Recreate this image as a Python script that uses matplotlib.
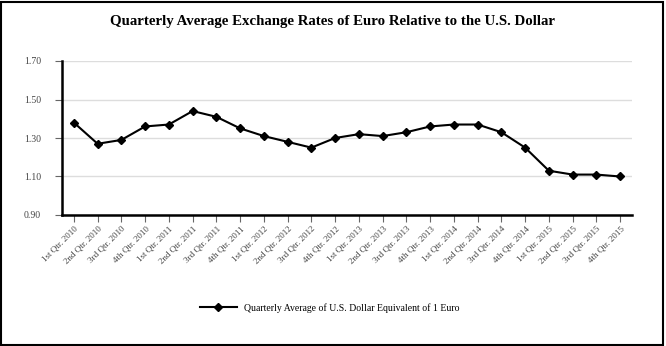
import matplotlib
matplotlib.use("Agg")
import matplotlib.pyplot as plt
from matplotlib.patches import Rectangle

quarters = ["1st Qtr. 2010", "2nd Qtr. 2010", "3rd Qtr. 2010", "4th Qtr. 2010",
            "1st Qtr. 2011", "2nd Qtr. 2011", "3rd Qtr. 2011", "4th Qtr. 2011",
            "1st Qtr. 2012", "2nd Qtr. 2012", "3rd Qtr. 2012", "4th Qtr. 2012",
            "1st Qtr. 2013", "2nd Qtr. 2013", "3rd Qtr. 2013", "4th Qtr. 2013",
            "1st Qtr. 2014", "2nd Qtr. 2014", "3rd Qtr. 2014", "4th Qtr. 2014",
            "1st Qtr. 2015", "2nd Qtr. 2015", "3rd Qtr. 2015", "4th Qtr. 2015"]
rates = [1.38, 1.27, 1.29, 1.36, 1.37, 1.44, 1.41, 1.35, 1.31, 1.28, 1.25, 1.30,
         1.32, 1.31, 1.33, 1.36, 1.37, 1.37, 1.33, 1.25, 1.13, 1.11, 1.11, 1.10]
yticks = [0.90, 1.10, 1.30, 1.50, 1.70]
series_label = "Quarterly Average of U.S. Dollar Equivalent of 1 Euro"
title = "Quarterly Average Exchange Rates of Euro Relative to the U.S. Dollar"

plt.rcParams['font.family'] = ['Liberation Serif', 'DejaVu Serif']

fig = plt.figure(figsize=(6.66, 3.46), dpi=100)
fig.patches.append(Rectangle((0.002, 0.003), 0.993, 0.992, transform=fig.transFigure,
                             fill=False, edgecolor='black', linewidth=1.5))

W, H = 666, 346
left, right, top, bottom = 62, 632, 61, 215
ax = fig.add_axes([left / W, 1 - bottom / H, (right - left) / W, (bottom - top) / H])

x = list(range(len(quarters)))
ax.plot(x, rates, color='black', linewidth=1.5, marker='D', markersize=4.5,
        label=series_label, zorder=3)
ax.set_xlim(-0.5, len(quarters) - 0.5)
ax.set_ylim(0.90, 1.70)
ax.set_yticks(yticks)
ax.set_yticklabels([f"{v:.2f}" for v in yticks], fontsize=7, color='#444444')
ax.set_xticks(x)
ax.set_xticklabels(quarters, rotation=45, ha='right', rotation_mode='anchor',
                   fontsize=6.5, color='#444444')
ax.yaxis.grid(True, color='#dddddd', linewidth=1)
ax.set_axisbelow(True)
for s in ['top', 'right']:
    ax.spines[s].set_visible(False)
for s in ['left', 'bottom']:
    ax.spines[s].set_linewidth(1.8)
ax.tick_params(axis='x', length=5, width=0.8, color='#666666', pad=2)
ax.tick_params(axis='y', length=5, width=0.8, color='#666666', pad=10)

fig.text(0.5, 1 - 22 / H, title, ha='center', va='center', fontsize=10.7, fontweight='bold')

fig.legend(loc='center', bbox_to_anchor=(0.495, 1 - 308 / H), frameon=False, fontsize=7,
           handlelength=3.8, handletextpad=0.8)

fig.savefig("out.png", dpi=100)
